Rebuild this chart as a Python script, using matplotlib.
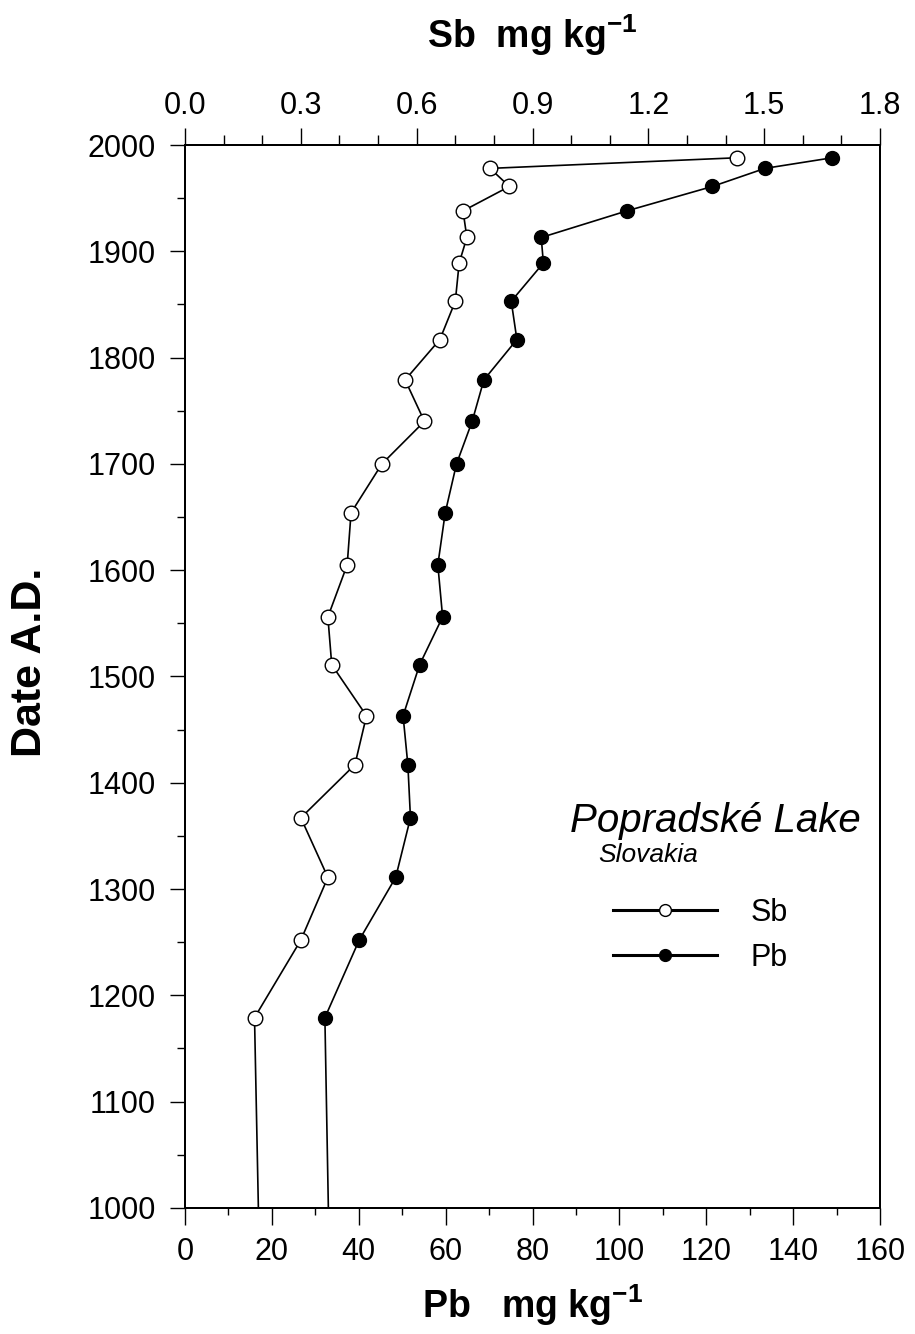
import matplotlib
matplotlib.use("Agg")
import matplotlib.pyplot as plt
from matplotlib import font_manager
from matplotlib.lines import Line2D
from matplotlib.ticker import MultipleLocator

# Datação (anos d.C.) das amostras do testemunho
datas = [1988, 1978, 1961, 1938, 1913, 1889, 1853, 1817, 1779, 1740, 1700,
         1654, 1605, 1556, 1511, 1463, 1417, 1367, 1311, 1252, 1179, 1000]

# Concentrações (mg/kg); o último valor é só o prolongamento até 1000 d.C.
sb = [1.43, 0.79, 0.84, 0.72, 0.73, 0.71, 0.70, 0.66, 0.57, 0.62, 0.51,
      0.43, 0.42, 0.37, 0.38, 0.47, 0.44, 0.30, 0.37, 0.30, 0.18, 0.19]
pb = [149.0, 133.5, 121.4, 101.7, 82.0, 82.5, 75.1, 76.4, 68.8, 66.1, 62.5,
      59.9, 58.2, 59.3, 54.0, 50.2, 51.3, 51.9, 48.5, 40.1, 32.2, 33.0]

pb_ticks = [0, 20, 40, 60, 80, 100, 120, 140, 160]
sb_ticks = [0.0, 0.3, 0.6, 0.9, 1.2, 1.5, 1.8]
ano_ticks = list(range(1000, 2001, 100))

plt.rcParams["font.family"] = ["Liberation Sans", "DejaVu Sans"]
plt.rcParams["mathtext.fontset"] = "custom"
plt.rcParams["mathtext.rm"] = "Liberation Sans"
plt.rcParams["mathtext.bf"] = "Liberation Sans:bold"

# fonte estreita para os números dos eixos x, se existir
try:
    font_manager.findfont("Liberation Sans Narrow", fallback_to_default=False)
    estreita = "Liberation Sans Narrow"
except Exception:
    estreita = "Liberation Sans"

fig = plt.figure(figsize=(9.15, 13.34), dpi=100)
ax = fig.add_axes([0.2022, 0.0945, 0.7596, 0.7968])
ax2 = ax.twiny()

marcas = list(range(len(datas) - 1))
ax.plot(pb, datas, color="black", lw=1.2, marker="o", ms=10,
        mfc="black", mec="black", markevery=marcas, zorder=3)
ax2.plot(sb, datas, color="black", lw=1.2, marker="o", ms=10.5,
         mfc="white", mec="black", mew=1.0, markevery=marcas, zorder=3)

ax.set_xlim(0, 160)
ax2.set_xlim(0, 1.8)
ax.set_ylim(1000, 2000)

ax.set_xticks(pb_ticks)
ax.xaxis.set_minor_locator(MultipleLocator(10))
ax2.set_xticks(sb_ticks)
ax2.set_xticklabels([f"{v:.1f}" for v in sb_ticks])
ax2.xaxis.set_minor_locator(MultipleLocator(0.1))
ax.set_yticks(ano_ticks)
ax.yaxis.set_minor_locator(MultipleLocator(50))

for a in (ax, ax2):
    for s in a.spines.values():
        s.set_linewidth(1.4)

ax.tick_params(axis="x", which="major", direction="out", length=12, width=1.0,
               pad=9, labelsize=22)
ax.tick_params(axis="x", which="minor", direction="out", length=5, width=1.0)
ax2.tick_params(axis="x", which="major", direction="out", length=12, width=1.0,
                pad=5, labelsize=22)
ax2.tick_params(axis="x", which="minor", direction="out", length=7, width=1.0)
ax.tick_params(axis="y", which="major", direction="out", length=11, width=1.0,
               pad=10, labelsize=22)
ax.tick_params(axis="y", which="minor", direction="out", length=6, width=1.0)
ax.tick_params(axis="y", right=False)

for lbl in ax.get_xticklabels() + ax2.get_xticklabels():
    lbl.set_fontfamily(estreita)

ax.set_xlabel(r"Pb   mg kg$^{\mathbf{-1}}$", fontsize=27, fontweight="bold",
              labelpad=11)
ax2.set_xlabel(r"Sb  mg kg$^{\mathbf{-1}}$", fontsize=27, fontweight="bold",
               labelpad=31)
ax.set_ylabel("Date A.D.", fontsize=31, fontweight="bold")
ax.yaxis.set_label_coords(-0.194, 0.513)

# legenda com o nome do lago
ax.text(0.554, 0.354, "Popradské Lake", transform=ax.transAxes,
        fontsize=29, style="italic", ha="left", va="baseline")
ax.text(0.594, 0.325, "Slovakia", transform=ax.transAxes,
        fontsize=19, style="italic", ha="left", va="baseline")

handles = [
    Line2D([], [], color="black", lw=2.2, marker="o", ms=8.5, mfc="white",
           mec="black", mew=1.0),
    Line2D([], [], color="black", lw=2.2, marker="o", ms=8.5, mfc="black",
           mec="black"),
]
ax.legend(handles, ["Sb", "Pb"], loc="upper left",
          bbox_to_anchor=(0.616, 0.292), frameon=False, fontsize=22,
          handlelength=3.4, handletextpad=1.1, labelspacing=0.5,
          borderpad=0, borderaxespad=0)

fig.savefig("out.png", dpi=100, facecolor="white")
